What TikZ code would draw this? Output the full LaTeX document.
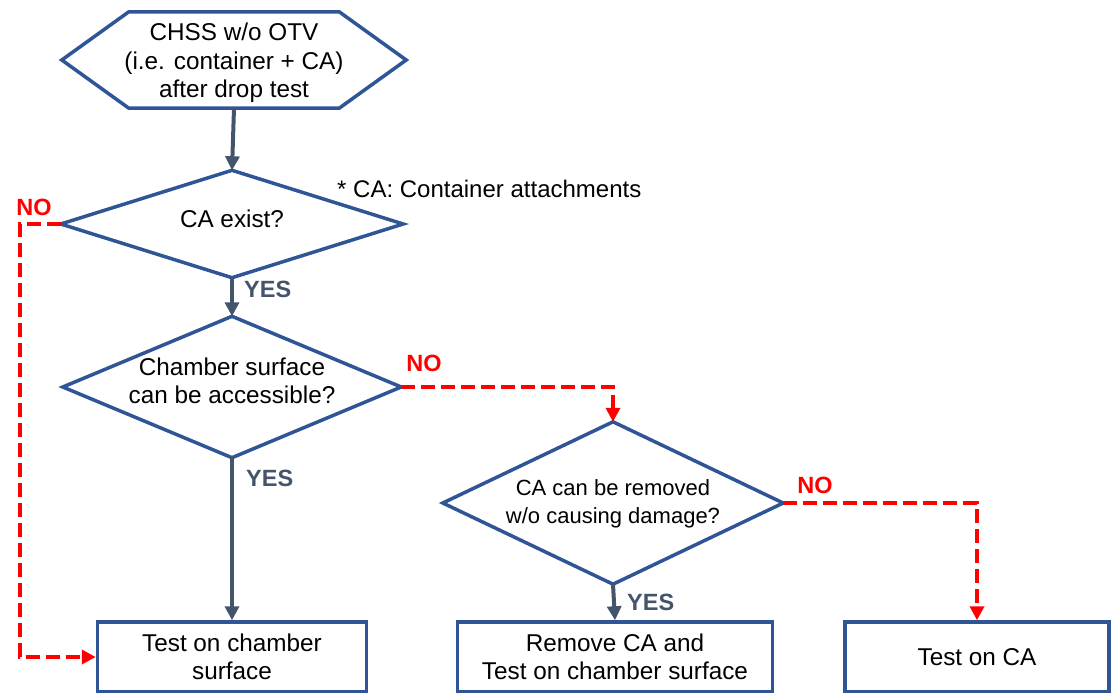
\documentclass[tikz,border=0pt]{standalone}
\usepackage{fontspec}
\setmainfont{Liberation Sans}
\usetikzlibrary{shapes.geometric,arrows.meta,calc}
\definecolor{shapeblue}{HTML}{2F5597}
\definecolor{arrowgray}{HTML}{44546A}
\definecolor{nored}{HTML}{FF0000}
\begin{document}
\begin{tikzpicture}[x=1pt,y=-1pt,
  txt/.style={font=\fontsize{24.3}{28.5}\selectfont, align=center},
  smalltxt/.style={font=\fontsize{22}{28}\selectfont, align=center},
  frame/.style={rectangle, inner sep=0pt},
  outline/.style={draw=shapeblue, line width=3.5pt, line join=miter},
  procbox/.style={rectangle, draw=shapeblue, line width=3.5pt, inner sep=0pt},
  yesarrow/.style={draw=arrowgray, line width=4pt, -{Triangle[length=14pt,width=14pt]}},
  noarrow/.style={draw=nored, line width=3.8pt, dash pattern=on 14pt off 6pt, -{Triangle[length=14pt,width=14pt]}},
  yeslabel/.style={font=\fontsize{23.5}{26}\selectfont\bfseries, text=arrowgray, inner sep=0pt, anchor=west},
  nolabel/.style={font=\fontsize{23.5}{26}\selectfont\bfseries, text=nored, inner sep=0pt}
]
\useasboundingbox (0,0) rectangle (1116,693);

% start hexagon
\node[frame, minimum width=344pt, minimum height=96pt] (start) at (234,60) {};
\node[txt, inner sep=0pt] (starttxt) at (234,63) {CHSS w/o OTV\\(i.e. container + CA)\\after drop test};
\draw[outline]
  (start.west) -- ([xshift=67pt]start.north west) -- ([xshift=-67pt]start.north east)
  -- (start.east) -- ([xshift=-67pt]start.south east) -- ([xshift=67pt]start.south west) -- cycle;

% decisions (drawn as diamonds round invisible frames)
\node[frame, minimum width=342pt, minimum height=107pt] (d1) at (232,224) {};
\draw[outline] (d1.north) -- (d1.east) -- (d1.south) -- (d1.west) -- cycle;
\node[txt, inner sep=0pt] (d1txt) at (232,219) {CA exist?};

\node[frame, minimum width=338pt, minimum height=141pt] (d2) at (232,387) {};
\draw[outline] (d2.north) -- (d2.east) -- (d2.south) -- (d2.west) -- cycle;
\node[txt, inner sep=0pt] (d2txt) at (232,381) {Chamber surface\\can be accessible?};

\node[frame, minimum width=340pt, minimum height=162pt] (d3) at (613,503) {};
\draw[outline] (d3.north) -- (d3.east) -- (d3.south) -- (d3.west) -- cycle;
\node[smalltxt, inner sep=0pt] (d3txt) at (613,504) {CA can be removed\\w/o causing damage?};

% boxes
\node[procbox, txt, minimum width=269pt, minimum height=70pt] (b1) at (232,657) {Test on chamber\\surface};
\node[procbox, txt, minimum width=315pt, minimum height=70pt] (b2) at (615,657) {Remove CA and\\Test on chamber surface};
\node[procbox, txt, minimum width=264pt, minimum height=70pt] (b3) at (977,657) {Test on CA};

% note
\node[font=\fontsize{24}{28}\selectfont, anchor=west, inner sep=0pt] (note) at (337,189) {* CA: Container attachments};

% connectors
\draw[yesarrow] (start.south) -- (d1.north);
\draw[yesarrow] (d1.south) -- (d2.north);
\draw[yesarrow] (d2.south) -- (b1.north);
\draw[yesarrow] (d3.south) -- (b2.north);
\draw[noarrow] (d1.west) -- ++(-41,0) |- (b1.west);
\draw[noarrow] (d2.east) -| (d3.north);
\draw[noarrow] (d3.east) -| (b3.north);

% labels
\node[yeslabel] (y1) at (244,289) {YES};
\node[yeslabel] (y2) at (246,478) {YES};
\node[yeslabel] (y3) at (627,602) {YES};
\node[nolabel] (n1) at (34,207) {NO};
\node[nolabel] (n2) at (424,363) {NO};
\node[nolabel] (n3) at (815,485) {NO};
\end{tikzpicture}
\end{document}
